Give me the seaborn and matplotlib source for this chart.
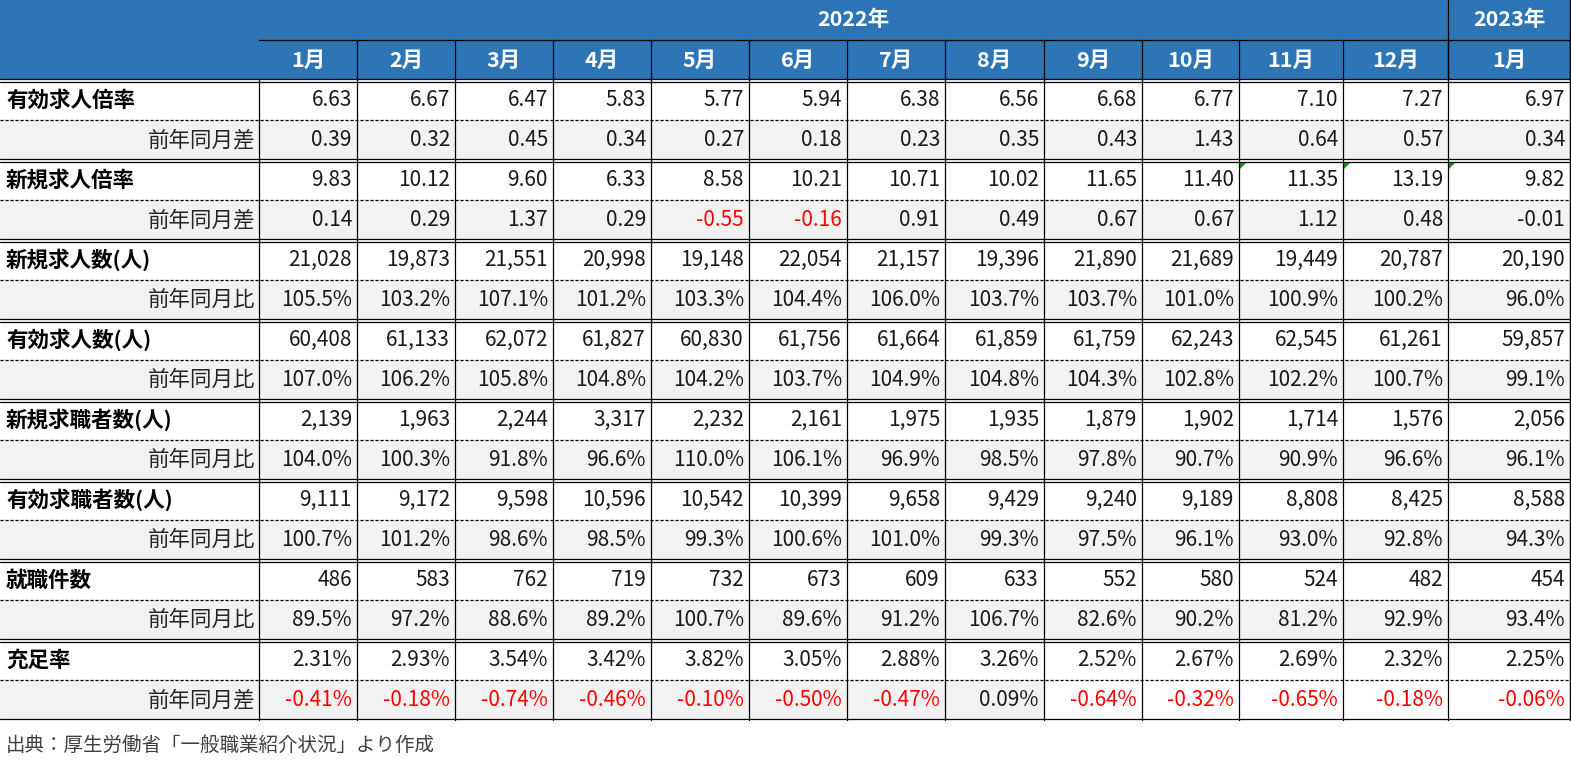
import matplotlib
matplotlib.use("Agg")
import matplotlib.pyplot as plt
import seaborn as sns
from matplotlib.patches import Rectangle, Polygon

# === DATA ===
years = ["2022年", "2023年"]
year_spans = [12, 1]
months = ["1月", "2月", "3月", "4月", "5月", "6月", "7月", "8月", "9月", "10月", "11月", "12月", "1月"]

row_labels = ["有効求人倍率", "前年同月差", "新規求人倍率", "前年同月差",
              "新規求人数(人)", "前年同月比", "有効求人数(人)", "前年同月比",
              "新規求職者数(人)", "前年同月比", "有効求職者数(人)", "前年同月比",
              "就職件数", "前年同月比", "充足率", "前年同月差"]

yuko_bairitsu = [6.63, 6.67, 6.47, 5.83, 5.77, 5.94, 6.38, 6.56, 6.68, 6.77, 7.10, 7.27, 6.97]
yuko_bairitsu_diff = [0.39, 0.32, 0.45, 0.34, 0.27, 0.18, 0.23, 0.35, 0.43, 1.43, 0.64, 0.57, 0.34]
shinki_bairitsu = [9.83, 10.12, 9.60, 6.33, 8.58, 10.21, 10.71, 10.02, 11.65, 11.40, 11.35, 13.19, 9.82]
shinki_bairitsu_diff = [0.14, 0.29, 1.37, 0.29, -0.55, -0.16, 0.91, 0.49, 0.67, 0.67, 1.12, 0.48, -0.01]
shinki_kyujin = [21028, 19873, 21551, 20998, 19148, 22054, 21157, 19396, 21890, 21689, 19449, 20787, 20190]
shinki_kyujin_yoy = [105.5, 103.2, 107.1, 101.2, 103.3, 104.4, 106.0, 103.7, 103.7, 101.0, 100.9, 100.2, 96.0]
yuko_kyujin = [60408, 61133, 62072, 61827, 60830, 61756, 61664, 61859, 61759, 62243, 62545, 61261, 59857]
yuko_kyujin_yoy = [107.0, 106.2, 105.8, 104.8, 104.2, 103.7, 104.9, 104.8, 104.3, 102.8, 102.2, 100.7, 99.1]
shinki_kyushoku = [2139, 1963, 2244, 3317, 2232, 2161, 1975, 1935, 1879, 1902, 1714, 1576, 2056]
shinki_kyushoku_yoy = [104.0, 100.3, 91.8, 96.6, 110.0, 106.1, 96.9, 98.5, 97.8, 90.7, 90.9, 96.6, 96.1]
yuko_kyushoku = [9111, 9172, 9598, 10596, 10542, 10399, 9658, 9429, 9240, 9189, 8808, 8425, 8588]
yuko_kyushoku_yoy = [100.7, 101.2, 98.6, 98.5, 99.3, 100.6, 101.0, 99.3, 97.5, 96.1, 93.0, 92.8, 94.3]
shushoku = [486, 583, 762, 719, 732, 673, 609, 633, 552, 580, 524, 482, 454]
shushoku_yoy = [89.5, 97.2, 88.6, 89.2, 100.7, 89.6, 91.2, 106.7, 82.6, 90.2, 81.2, 92.9, 93.4]
juusoku = [2.31, 2.93, 3.54, 3.42, 3.82, 3.05, 2.88, 3.26, 2.52, 2.67, 2.69, 2.32, 2.25]
juusoku_diff = [-0.41, -0.18, -0.74, -0.46, -0.10, -0.50, -0.47, 0.09, -0.64, -0.32, -0.65, -0.18, -0.06]

rows = [
    (yuko_bairitsu, "{:.2f}"), (yuko_bairitsu_diff, "{:.2f}"),
    (shinki_bairitsu, "{:.2f}"), (shinki_bairitsu_diff, "{:.2f}"),
    (shinki_kyujin, "{:,}"), (shinki_kyujin_yoy, "{:.1f}%"),
    (yuko_kyujin, "{:,}"), (yuko_kyujin_yoy, "{:.1f}%"),
    (shinki_kyushoku, "{:,}"), (shinki_kyushoku_yoy, "{:.1f}%"),
    (yuko_kyushoku, "{:,}"), (yuko_kyushoku_yoy, "{:.1f}%"),
    (shushoku, "{:,}"), (shushoku_yoy, "{:.1f}%"),
    (juusoku, "{:.2f}%"), (juusoku_diff, "{:.2f}%"),
]
source = "出典：厚生労働省「一般職業紹介状況」より作成"

# === LAYOUT / STYLE ===
col_edges = [0, 259, 357, 455, 553, 651, 749, 847, 945, 1044, 1142, 1239, 1343, 1448, 1570]
row_h = 40
head_h = 80
blue = "#2E75B6"
gray = "#F2F2F2"
red = "#FF0000"
black_negatives = [(3, 12)]          # red format not applied in that cell
white_subrow_cells = [(15, c) for c in range(8, 13)]
error_marks = [(2, 10), (2, 11), (2, 12)]

sns.set_theme(style="white")
plt.rcParams["font.family"] = ["Noto Sans CJK JP", "DejaVu Sans"]

fig = plt.figure(figsize=(15.71, 7.74), dpi=100)
ax = fig.add_axes([0, 0, 1, 1])
ax.set_xlim(0, 1571)
ax.set_ylim(774, 0)
ax.axis("off")

lw = 0.9
right = col_edges[-1]
bottom = head_h + row_h * len(rows)

# header
ax.add_patch(Rectangle((0, 0), right, head_h, color=blue, lw=0))
start = 1
for yr, span in zip(years, year_spans):
    x0, x1 = col_edges[start], col_edges[start + span]
    ax.text((x0 + x1) / 2, 20, yr, ha="center", va="center", color="white",
            fontsize=15.5, fontweight="bold")
    ax.plot([x1, x1], [0, head_h], color="black", lw=lw)
    start += span
for i, m in enumerate(months):
    x0, x1 = col_edges[i + 1], col_edges[i + 2]
    ax.text((x0 + x1) / 2, 60, m, ha="center", va="center", color="white",
            fontsize=15.5, fontweight="bold")
    ax.plot([x1, x1], [40, head_h], color="black", lw=lw)
ax.plot([col_edges[1], right], [40, 40], color="black", lw=lw)

# body
for r, ((vals, fmt), label) in enumerate(zip(rows, row_labels)):
    y0 = head_h + r * row_h
    yc = y0 + row_h / 2
    sub = r % 2 == 1
    if sub:
        for c in range(len(col_edges) - 1):
            if (r, c - 1) in white_subrow_cells:
                continue
            ax.add_patch(Rectangle((col_edges[c], y0), col_edges[c + 1] - col_edges[c],
                                   row_h, color=gray, lw=0))
        ax.text(col_edges[1] - 4, yc, label, ha="right", va="center",
                fontsize=15.5, color="#262626")
    else:
        ax.text(6, yc, label, ha="left", va="center", fontsize=15.5,
                fontweight="bold", color="black")
    for c, v in enumerate(vals):
        color = red if (v < 0 and (r, c) not in black_negatives) else "#1a1a1a"
        ax.text(col_edges[c + 2] - 5, yc, fmt.format(v), ha="right", va="center",
                fontsize=15, color=color)
    # separators
    if sub:
        yb = y0 + row_h
        ax.plot([0, right], [yb - 1.5, yb - 1.5], color="black", lw=lw)
        if r < len(rows) - 1:
            ax.plot([0, right], [yb + 1.5, yb + 1.5], color="black", lw=lw)
    else:
        ax.plot([0, right], [y0 + row_h, y0 + row_h], color="black", lw=lw,
                linestyle=(0, (2.5, 1.5)))

# header bottom double line
ax.plot([0, right], [head_h - 1.5, head_h - 1.5], color="black", lw=lw)
ax.plot([0, right], [head_h + 1.5, head_h + 1.5], color="black", lw=lw)

# vertical grid in body
for x in col_edges[1:]:
    ax.plot([x, x], [head_h, bottom], color="black", lw=lw)
ax.plot([right, right], [0, bottom], color="black", lw=lw)

# excel error marks
for r, c in error_marks:
    x0 = col_edges[c + 1] + 1
    y0 = head_h + r * row_h + 2
    ax.add_patch(Polygon([(x0, y0), (x0 + 7, y0), (x0, y0 + 7)], color="#1E8C1E", lw=0))

ax.text(6, 745, source, ha="left", va="center", fontsize=14, color="#404040")

fig.savefig("out.png", dpi=100)
